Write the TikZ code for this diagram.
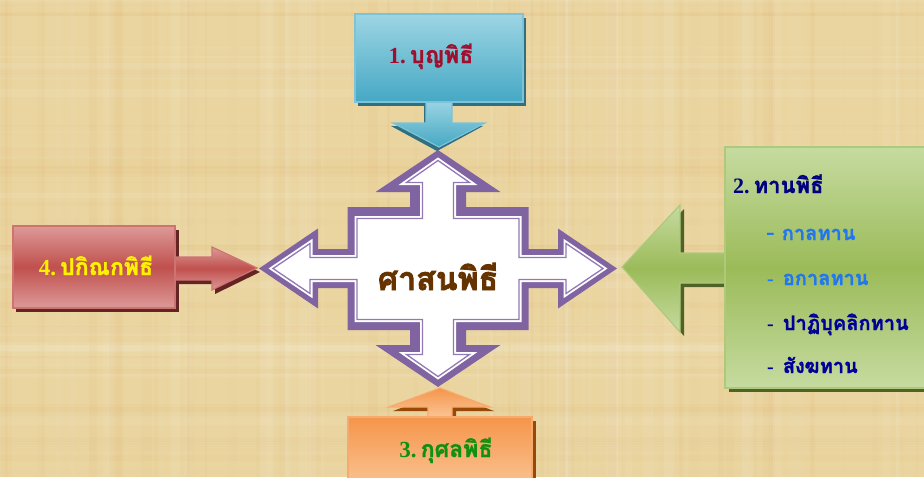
\documentclass[tikz,border=0pt]{standalone}
\usepackage{fontspec}
\newfontfamily\thai[Script=Thai,FakeBold=1.2]{Loma}
\newfontfamily\thaiheavy[Script=Thai,FakeBold=2.5]{Loma}
\newfontfamily\lser{Liberation Serif}
\usetikzlibrary{shadings}
\definecolor{bg}{HTML}{EAD5A0}
\definecolor{purp}{HTML}{8064A2}
\definecolor{purpthin}{HTML}{9278B4}
\definecolor{brn}{HTML}{663300}
\definecolor{crim}{HTML}{A0102E}
\definecolor{navy}{HTML}{000080}
\definecolor{navyb}{HTML}{000099}
\definecolor{brightblue}{HTML}{2277EE}
\definecolor{grn}{HTML}{109010}
\definecolor{blueL}{HTML}{9DD5E4}
\definecolor{blueD}{HTML}{45A8C4}
\definecolor{blueS}{HTML}{2E6F80}
\definecolor{greenL}{HTML}{C6DBA0}
\definecolor{greenD}{HTML}{9BBB59}
\definecolor{greenS}{HTML}{4F6228}
\definecolor{redL}{HTML}{DC9A98}
\definecolor{redD}{HTML}{C0504D}
\definecolor{redS}{HTML}{632423}
\definecolor{orL}{HTML}{FBC697}
\definecolor{orD}{HTML}{F5954A}
\definecolor{orS}{HTML}{984807}
\tikzset{
  bluefill/.style={top color=blueL, bottom color=blueD, draw=blueD!70!white, line width=1.2pt},
  greenfill/.style={top color=greenL, bottom color=greenL, middle color=greenD, draw=greenD!80!white, line width=1.2pt},
  redfill/.style={top color=redL, bottom color=redL, middle color=redD, draw=redD!80!white, line width=1.2pt},
  orfill/.style={top color=orD, bottom color=orL, draw=orD!80!white, line width=1.2pt},
  thaitxt/.style={inner sep=0pt, font=\thai\bfseries\fontsize{23}{26}\selectfont},
  listtxt/.style={inner sep=0pt, anchor=base west, font=\thai\bfseries\fontsize{20}{23}\selectfont},
}
\begin{document}
\begin{tikzpicture}[x=1pt,y=-1pt]
\useasboundingbox (0,0) rectangle (924,477);
\clip (0,0) rectangle (924,477);
% background
\fill[bg] (0,0) rectangle (924,477);
\pgfmathsetseed{11}
\foreach \i in {1,...,90}{
  \pgfmathsetmacro{\xx}{rnd*924}
  \pgfmathsetmacro{\ww}{1+rnd*12}
  \pgfmathsetmacro{\oo}{0.03+rnd*0.07}
  \pgfmathsetmacro{\cc}{rnd>0.5 ? 1 : 0}
  \ifdim\cc pt>0.5pt
    \fill[white, opacity=\oo] (\xx,0) rectangle ++(\ww,477);
  \else
    \fill[brown!70!orange, opacity=\oo*0.5] (\xx,0) rectangle ++(\ww,477);
  \fi
}
\foreach \i in {1,...,60}{
  \pgfmathsetmacro{\yy}{rnd*477}
  \pgfmathsetmacro{\hh}{1+rnd*10}
  \pgfmathsetmacro{\oo}{0.03+rnd*0.07}
  \pgfmathsetmacro{\cc}{rnd>0.5 ? 1 : 0}
  \ifdim\cc pt>0.5pt
    \fill[white, opacity=\oo] (0,\yy) rectangle ++(924,\hh);
  \else
    \fill[brown!70!orange, opacity=\oo*0.5] (0,\yy) rectangle ++(924,\hh);
  \fi
}

% ---------- central cross arrow ----------
\begin{scope}[shift={(438,268.5)}]
\fill[purp] (0,-118.5) -- (62.5,-76.5) -- (28,-76.5) -- (28,-61.5) -- (90.5,-61.5) -- (90.5,-19.5) -- (120,-19.5) -- (120,-40) -- (179,0) -- (120,40) -- (120,19.5) -- (90.5,19.5) -- (90.5,61.5) -- (28,61.5) -- (28,76.5) -- (62.5,76.5) -- (0,118.5) -- (-62.5,76.5) -- (-28,76.5) -- (-28,61.5) -- (-90.5,61.5) -- (-90.5,19.5) -- (-120,19.5) -- (-120,40) -- (-179,0) -- (-120,-40) -- (-120,-19.5) -- (-90.5,-19.5) -- (-90.5,-61.5) -- (-28,-61.5) -- (-28,-76.5) -- (-62.5,-76.5) -- cycle;
\def\innerpath{(0,-108) -- (31.5,-86) -- (15.5,-86) -- (15.5,-50) -- (81,-50) -- (81,-11) -- (128,-11) -- (128,-25) -- (165,0) -- (128,25) -- (128,11) -- (81,11) -- (81,51) -- (15.5,51) -- (15.5,86) -- (31.5,86) -- (0,108) -- (-31.5,86) -- (-15.5,86) -- (-15.5,51) -- (-81,51) -- (-81,11) -- (-128,11) -- (-128,25) -- (-165,0) -- (-128,-25) -- (-128,-11) -- (-81,-11) -- (-81,-50) -- (-15.5,-50) -- (-15.5,-86) -- (-31.5,-86) -- cycle}
\filldraw[white, line width=5pt, line join=miter] \innerpath;
\draw[purpthin, line width=1.3pt, line join=miter] \innerpath;
\end{scope}
\node[inner sep=0pt, anchor=base, text=brn, font=\thaiheavy\bfseries\fontsize{32}{36}\selectfont] (center) at (438,290) {ศาสนพิธี};

% ---------- 1 top blue ----------
\fill[blueS] (358,18) rectangle (526,106);
\fill[blueS] (424,104) -- (450,104) -- (450,126) -- (483,126) -- (437,151) -- (391,126) -- (424,126) -- cycle;
\path[bluefill] (426,100) -- (452,100) -- (452,123) -- (485,123) -- (439,147) -- (393,123) -- (426,123) -- cycle;
\path[bluefill] (355,14) rectangle (523,102);
\node[thaitxt, anchor=base, text=crim] (t1) at (431,63) {{\lser\bfseries 1.}\hspace{4pt}บุญพิธี};

% ---------- 2 right green ----------
\fill[greenS] (729,151) rectangle (940,392);
\fill[greenS] (729,257) -- (684,257) -- (684,209) -- (626,271) -- (684,336) -- (684,287) -- (729,287) -- cycle;
\path[greenfill] (727,253) -- (680,253) -- (680,205) -- (622,267) -- (680,332) -- (680,283) -- (727,283) -- cycle;
\path[greenfill] (725,147) rectangle (936,388);
\node[inner sep=0pt, anchor=base west, text=navy, font=\thai\bfseries\fontsize{22}{25}\selectfont] (t2) at (733,193) {{\lser\bfseries 2.}\hspace{4pt}ทานพิธี};
\node[listtxt, text=brightblue] (t2a) at (766,240) {{\lser\bfseries\fontsize{26}{26}\selectfont -}\hspace{7pt}กาลทาน};
\node[listtxt, text=brightblue] (t2b) at (767,285) {{\lser\bfseries -}\hspace{9pt}อกาลทาน};
\node[listtxt, text=navyb] (t2c) at (767,330) {{\lser\bfseries -}\hspace{9pt}ปาฏิบุคลิกทาน};
\node[listtxt, text=navyb] (t2d) at (767,373) {{\lser\bfseries -}\hspace{9pt}สังฆทาน};

% ---------- 3 bottom orange ----------
\fill[orS] (432,411) -- (432,422) -- (456,422) -- (456,411) -- (494,411) -- (444,392) -- (393,411) -- cycle;
\fill[orS] (351,421) rectangle (536,490);
\path[orfill] (428,418) -- (428,407) -- (389,407) -- (440,388) -- (490,407) -- (452,407) -- (452,418) -- cycle;
\path[orfill] (348,417) rectangle (532,490);
\node[thaitxt, anchor=base, text=grn] (t3) at (446,457) {{\lser\bfseries 3.}\hspace{4pt}กุศลพิธี};

% ---------- 4 left red ----------
\fill[redS] (16,230) rectangle (179,312);
\fill[redS] (178,261) -- (215,261) -- (215,251) -- (260,272) -- (215,294) -- (215,284) -- (178,284) -- cycle;
\path[redfill] (174,257) -- (212,257) -- (212,247) -- (257,268) -- (212,290) -- (212,280) -- (174,280) -- cycle;
\path[redfill] (13,226) rectangle (175,308);
\node[thaitxt, anchor=base, text=yellow] (t4) at (96,275) {{\lser\bfseries 4.}\hspace{4pt}ปกิณกพิธี};
\end{tikzpicture}
\end{document}
